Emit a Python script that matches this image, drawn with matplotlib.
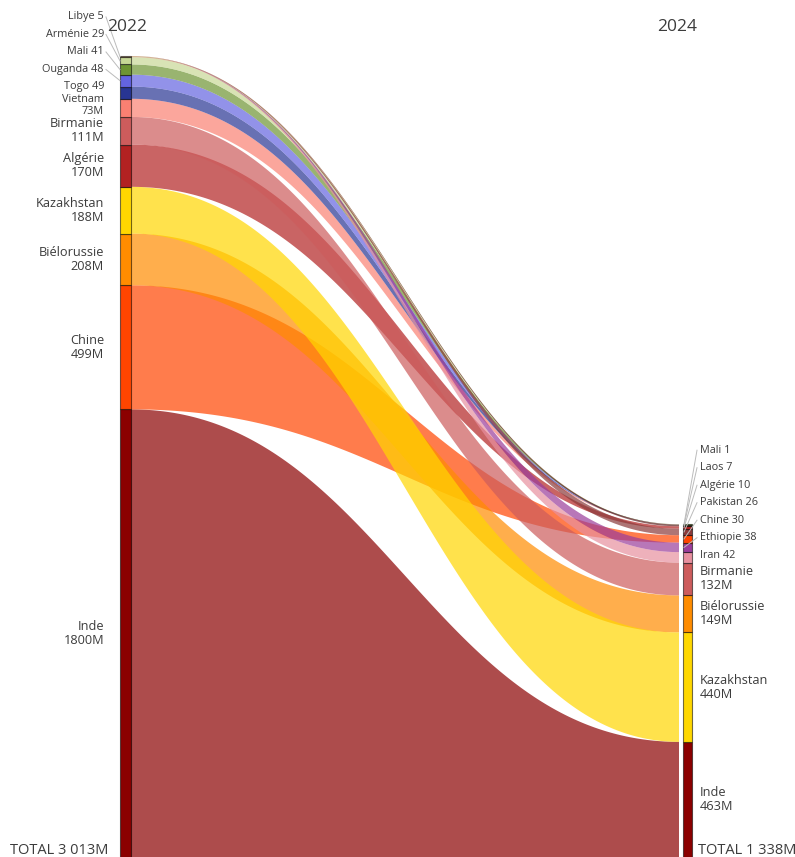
import numpy as np
import matplotlib.pyplot as plt

plt.rcParams['font.family'] = ['Open Sans', 'DejaVu Sans']

# data, stacked bottom -> top
countries_2022 = ['Inde', 'Chine', 'Biélorussie', 'Kazakhstan', 'Algérie', 'Birmanie',
                  'Vietnam', 'Togo', 'Ouganda', 'Mali', 'Arménie', 'Libye']
values_2022 = [1800, 499, 208, 188, 170, 111, 73, 49, 48, 41, 29, 5]
countries_2024 = ['Inde', 'Kazakhstan', 'Biélorussie', 'Birmanie', 'Iran', 'Ethiopie',
                  'Chine', 'Pakistan', 'Algérie', 'Laos', 'Mali']
values_2024 = [463, 440, 149, 132, 42, 38, 30, 26, 10, 7, 1]
years = ['2022', '2024']
total_labels = ['TOTAL 3 013M', 'TOTAL 1 338M']

colors = {
    'Inde': '#8B0000', 'Chine': '#FF4500', 'Biélorussie': '#FF8C00',
    'Kazakhstan': '#FFD700', 'Algérie': '#B22222', 'Birmanie': '#CD5C5C',
    'Vietnam': '#FA8072', 'Togo': '#283593', 'Ouganda': '#6464E0',
    'Mali': '#6E9433', 'Arménie': '#C8D896', 'Libye': '#C49A6C',
    'Iran': '#E8909F', 'Ethiopie': '#9B3D9B', 'Pakistan': '#8B3A3A',
    'Laos': '#5C1F1F',
}
txt_color = '#3c3c3c'

W, H = 795, 857
k = (H - 56) / sum(values_2022)   # px per million

fig = plt.figure(figsize=(W / 100, H / 100), dpi=100)
ax = fig.add_axes([0, 0, 1, 1])
ax.set_xlim(0, W)
ax.set_ylim(0, H / k)
ax.axis('off')

xl0, xl1 = 120, 131     # left bar
xr0, xr1 = 683, 692     # right bar
x_start, x_end = xl1, 679


def stack(values):
    v = np.array(values, dtype=float)
    bottoms = np.concatenate([[0], np.cumsum(v)[:-1]])
    return bottoms, bottoms + v


b22, t22 = stack(values_2022)
b24, t24 = stack(values_2024)
top22, top24 = t22[-1], t24[-1]

left = {c: (b22[i], t22[i]) for i, c in enumerate(countries_2022)}
right = {c: (b24[i], t24[i]) for i, c in enumerate(countries_2024)}

# ribbons (cubic bezier, horizontal tangents at both ends)
cp = 0.45
t = np.linspace(0, 1, 200)
xs = x_start + (x_end - x_start) * (3 * cp * (1 - t) ** 2 * t + 3 * (1 - cp) * (1 - t) * t ** 2 + t ** 3)
ys = 3 * t ** 2 - 2 * t ** 3
order = countries_2022 + [c for c in countries_2024 if c not in countries_2022]
for c in order:
    lb, lt = left.get(c, (top22, top22))
    rb, rt = right.get(c, (top24, top24))
    bot = lb + (rb - lb) * ys
    top = lt + (rt - lt) * ys
    ax.fill(np.r_[xs, xs[::-1]], np.r_[top, bot[::-1]], color=colors[c],
            alpha=0.7, lw=0)

# bars
ax.bar((xl0 + xl1) / 2, values_2022, bottom=b22, width=xl1 - xl0,
       color=[colors[c] for c in countries_2022], edgecolor=(0, 0, 0, 0.55), linewidth=0.8)
ax.bar((xr0 + xr1) / 2, values_2024, bottom=b24, width=xr1 - xr0,
       color=[colors[c] for c in countries_2024], edgecolor=(0, 0, 0, 0.55), linewidth=0.8)


def place(values, bottoms):
    # push labels upward so they don't collide
    pos, prev_pos, prev_h = [], None, None
    for v, b in zip(values, bottoms):
        h = (30 if v >= 100 else 20) if v >= 50 else 17.5
        h = h / k
        c = b + v / 2
        p = c if prev_pos is None else max(c, prev_pos + (prev_h + h) / 2)
        pos.append(p)
        prev_pos, prev_h = p, h
    return pos


def label_side(names, values, bottoms, x_text, ha, x_bar):
    pos = place(values, bottoms)
    for name, v, b, p in zip(names, values, bottoms, pos):
        if v >= 50:
            txt = f'{name}\n{v}M'
        else:
            txt = f'{name} {v}'
        fs = 9.2 if v >= 100 else 7.8
        ax.text(x_text, p, txt, ha=ha, va='center', fontsize=fs, color=txt_color,
                linespacing=1.1)
        c = b + v / 2
        if (p - c) * k > 9:
            x_from = x_text + (2 if ha == 'right' else -3)
            ax.plot([x_from, x_bar], [p, c], color='#bbbbbb', lw=0.7)


label_side(countries_2022, values_2022, b22, 104, 'right', xl0)
label_side(countries_2024, values_2024, b24, 700, 'left', xr0 + 1)

ax.text(107, (H - 27) / k, years[0], ha='left', va='center', fontsize=12.5, color=txt_color)
ax.text(677, (H - 27) / k, years[1], ha='center', va='center', fontsize=12.5, color=txt_color)
ax.text(108, 7 / k, total_labels[0], ha='right', va='center', fontsize=10.5, color=txt_color)
ax.text(698, 7 / k, total_labels[1], ha='left', va='center', fontsize=10.5, color=txt_color)

fig.savefig('out.png', dpi=100)
